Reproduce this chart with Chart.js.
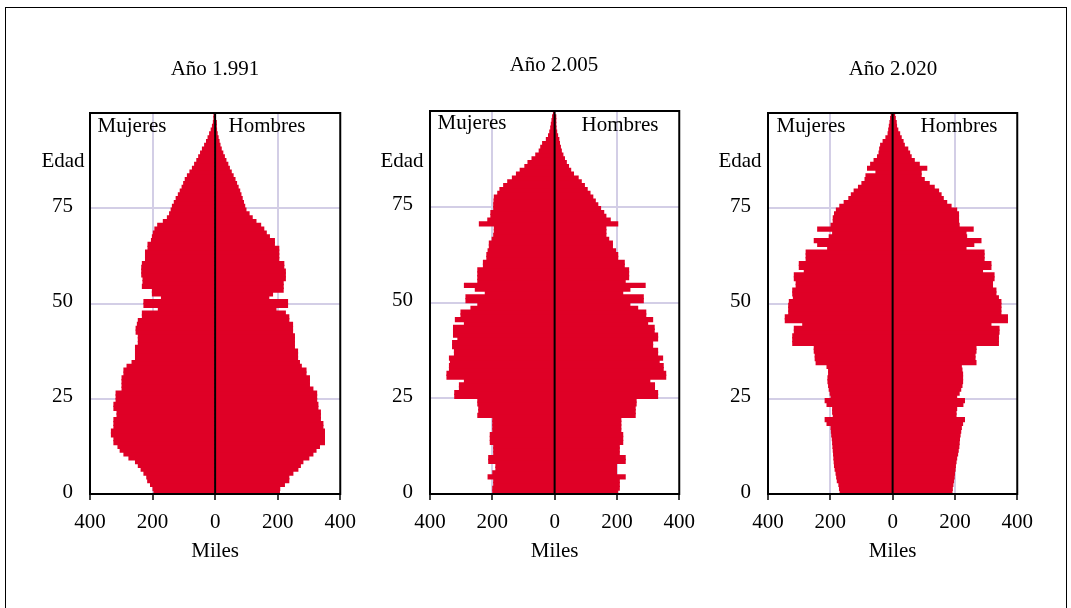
<!DOCTYPE html>
<html lang="es">
<head>
  <meta charset="UTF-8">
  <title>Pirámides de población</title>
  <script src="https://cdn.jsdelivr.net/npm/chart.js"></script>
  <style>
    body { margin: 0; background: #fff; font-family: 'Liberation Serif', 'Times New Roman', serif; }
    #page { position: relative; width: 1071px; height: 608px; overflow: hidden; }
    #frame {
      position: absolute; left: 5px; top: 7px; width: 1060px; height: 640px;
      border: 1px solid #000;
    }
    canvas { position: absolute; top: 0; }
    .lbl {
      position: absolute; font-size: 21px; color: #000; white-space: nowrap;
      transform: translate(-50%, -50%); z-index: 5; pointer-events: none;
    }
  </style>
</head>
<body>
<div id="page">
  <div id="frame"></div>
  <canvas id="c1" width="366" height="600" style="left:0px"></canvas>
  <canvas id="c2" width="365" height="600" style="left:340px"></canvas>
  <canvas id="c3" width="365" height="600" style="left:678px"></canvas>

  <div class="lbl" style="left:215px;top:68px">Año 1.991</div>
  <div class="lbl" style="left:554px;top:64px">Año 2.005</div>
  <div class="lbl" style="left:893px;top:68px">Año 2.020</div>

  <div class="lbl" style="left:63px;top:160px">Edad</div>
  <div class="lbl" style="left:402px;top:160px">Edad</div>
  <div class="lbl" style="left:740px;top:160px">Edad</div>

  <div class="lbl" style="left:132px;top:125px">Mujeres</div>
  <div class="lbl" style="left:267px;top:125px">Hombres</div>
  <div class="lbl" style="left:472px;top:122px">Mujeres</div>
  <div class="lbl" style="left:620px;top:124px">Hombres</div>
  <div class="lbl" style="left:811px;top:125px">Mujeres</div>
  <div class="lbl" style="left:959px;top:125px">Hombres</div>
</div>

<script>
  // edades 0..99, valores en miles
  const ages = Array.from({ length: 100 }, (_, i) => String(i));
  const ageTicks = [0, 25, 50, 75];
  const xTicks = [-400, -200, 0, 200, 400];

  const mujeres1991 = [
    195,198,206,215,218,227,236,245,254,275,
    291,303,310,323,323,331,331,323,323,323,
    313,313,323,323,316,316,316,297,297,297,
    297,291,291,281,265,254,254,254,254,245,
    245,245,252,252,248,245,232,232,181,227,
    227,171,200,200,232,230,230,234,234,234,
    232,222,222,222,214,214,203,200,197,192,
    183,165,152,145,140,136,130,124,117,111,
    105,100,95,88,80,72,65,58,52,46,
    40,33,27,22,17,12,8,5,2,1];
  const hombres1991 = [
    205,206,221,235,235,248,264,272,280,299,
    312,322,333,349,349,349,349,344,344,336,
    336,336,328,328,324,324,324,312,301,301,
    301,290,290,275,269,263,263,263,253,253,
    253,253,247,247,247,235,235,224,194,231,
    231,171,183,217,217,217,224,224,224,219,
    219,203,203,203,203,189,189,173,163,155,
    145,130,118,108,98,94,90,86,82,78,
    73,68,63,57,51,45,40,34,29,24,
    19,15,12,9,6,4,2,1,0,0];

  const mujeres2005 = [
    198,198,195,195,213,198,188,188,211,211,
    195,195,195,206,206,206,198,198,198,198,
    246,243,243,246,246,320,320,305,305,289,
    345,345,337,337,334,337,321,321,327,327,
    310,324,324,324,289,318,300,300,268,246,
    284,284,222,254,289,246,246,246,246,228,
    228,217,217,213,209,209,200,195,193,193,
    241,214,204,204,195,195,194,193,182,175,
    163,150,135,122,110,95,85,72,60,49,
    44,38,26,19,15,12,10,8,6,2];
  const hombres2005 = [
    202,207,207,207,226,198,198,198,226,226,
    207,207,207,218,218,218,212,212,212,212,
    258,258,258,261,261,330,330,320,320,305,
    356,356,348,348,335,346,330,330,314,314,
    330,330,319,319,298,314,292,292,266,241,
    284,284,218,241,290,226,237,237,237,223,
    223,202,202,195,185,185,173,164,164,164,
    202,178,164,157,147,138,130,122,113,104,
    95,85,75,60,51,44,37,31,26,21,
    18,15,13,9,6,4,3,2,1,0];

  const mujeres2020 = [
    168,170,172,177,179,181,184,186,187,188,
    189,190,191,192,193,195,196,197,210,216,
    190,192,192,210,216,197,200,203,205,207,
    207,205,205,210,245,248,248,251,251,320,
    320,320,315,315,288,344,344,333,333,333,
    331,318,320,320,309,309,315,315,283,299,
    299,277,277,277,208,240,251,203,192,240,
    197,190,190,186,180,169,155,140,132,123,
    109,98,88,85,53,80,70,59,48,43,
    41,38,30,21,14,12,10,8,6,4];
  const hombres2020 = [
    190,191,193,195,197,198,200,201,203,205,
    208,210,212,213,214,216,218,220,224,230,
    203,203,205,225,230,205,213,218,222,224,
    224,224,222,220,267,264,264,267,267,339,
    339,339,341,341,315,368,368,347,347,347,
    347,339,331,331,320,320,325,325,288,315,
    315,293,293,293,235,260,283,237,235,258,
    213,211,211,211,205,187,173,162,155,147,
    133,117,101,91,91,109,85,69,59,54,
    48,37,33,27,22,16,12,11,8,6];

  const RED = '#DF0026';
  const GRID = '#D3CEE6';
  const FONT = { family: "'Liberation Serif', 'Times New Roman', serif", size: 21 };

  const boxPlugin = {
    id: 'boxPlugin',
    afterDatasetsDraw(chart) {
      const { ctx, chartArea: a, scales } = chart;
      const x0 = scales.x.getPixelForValue(0);
      ctx.save();
      ctx.strokeStyle = '#000';
      ctx.lineWidth = 2;
      ctx.beginPath();
      ctx.moveTo(x0, a.top);
      ctx.lineTo(x0, a.bottom);
      ctx.stroke();
      ctx.strokeRect(a.left, a.top, a.right - a.left, a.bottom - a.top);
      ctx.restore();
    }
  };

  function pyramid(id, women, men, top) {
    const bar = { backgroundColor: RED, barPercentage: 1, categoryPercentage: 1,
                  borderWidth: 0, inflateAmount: 0.7 };
    new Chart(document.getElementById(id), {
      type: 'bar',
      data: {
        labels: ages,
        datasets: [
          Object.assign({ label: 'Mujeres', data: women.map(v => -v) }, bar),
          Object.assign({ label: 'Hombres', data: men }, bar)
        ]
      },
      options: {
        indexAxis: 'y',
        responsive: false,
        devicePixelRatio: 1,
        animation: false,
        layout: { padding: { top: top, bottom: 36, left: 0, right: 20 } },
        plugins: { legend: { display: false }, tooltip: { enabled: false } },
        scales: {
          x: {
            stacked: true,
            min: -400, max: 400,
            afterBuildTicks: s => { s.ticks = xTicks.map(v => ({ value: v })); },
            afterFit: s => { s.height = 70; },
            border: { display: false },
            grid: {
              color: c => Math.abs(c.tick.value) === 200 ? GRID : 'rgba(0,0,0,0)',
              lineWidth: 2,
              drawTicks: true,
              tickLength: 6,
              tickColor: '#000',
              tickWidth: 1.5
            },
            ticks: {
              color: '#000', font: FONT, padding: 10, maxRotation: 0,
              callback: v => String(Math.abs(v))
            },
            title: { display: true, text: 'Miles', color: '#000', font: FONT,
                     padding: { top: 0, bottom: 0 } }
          },
          y: {
            stacked: true,
            reverse: true,
            afterFit: s => { s.width = 90; },
            border: { display: false },
            grid: {
              color: c => (ageTicks.includes(c.index) && c.index > 0) ? GRID : 'rgba(0,0,0,0)',
              lineWidth: 2,
              drawTicks: false
            },
            ticks: {
              autoSkip: false, color: '#000', font: FONT, padding: 17,
              callback: (v, i) => ageTicks.includes(i) ? String(i) : ''
            }
          }
        }
      },
      plugins: [boxPlugin]
    });
  }

  pyramid('c1', mujeres1991, hombres1991, 113);
  pyramid('c2', mujeres2005, hombres2005, 111);
  pyramid('c3', mujeres2020, hombres2020, 113);
</script>
</body>
</html>
